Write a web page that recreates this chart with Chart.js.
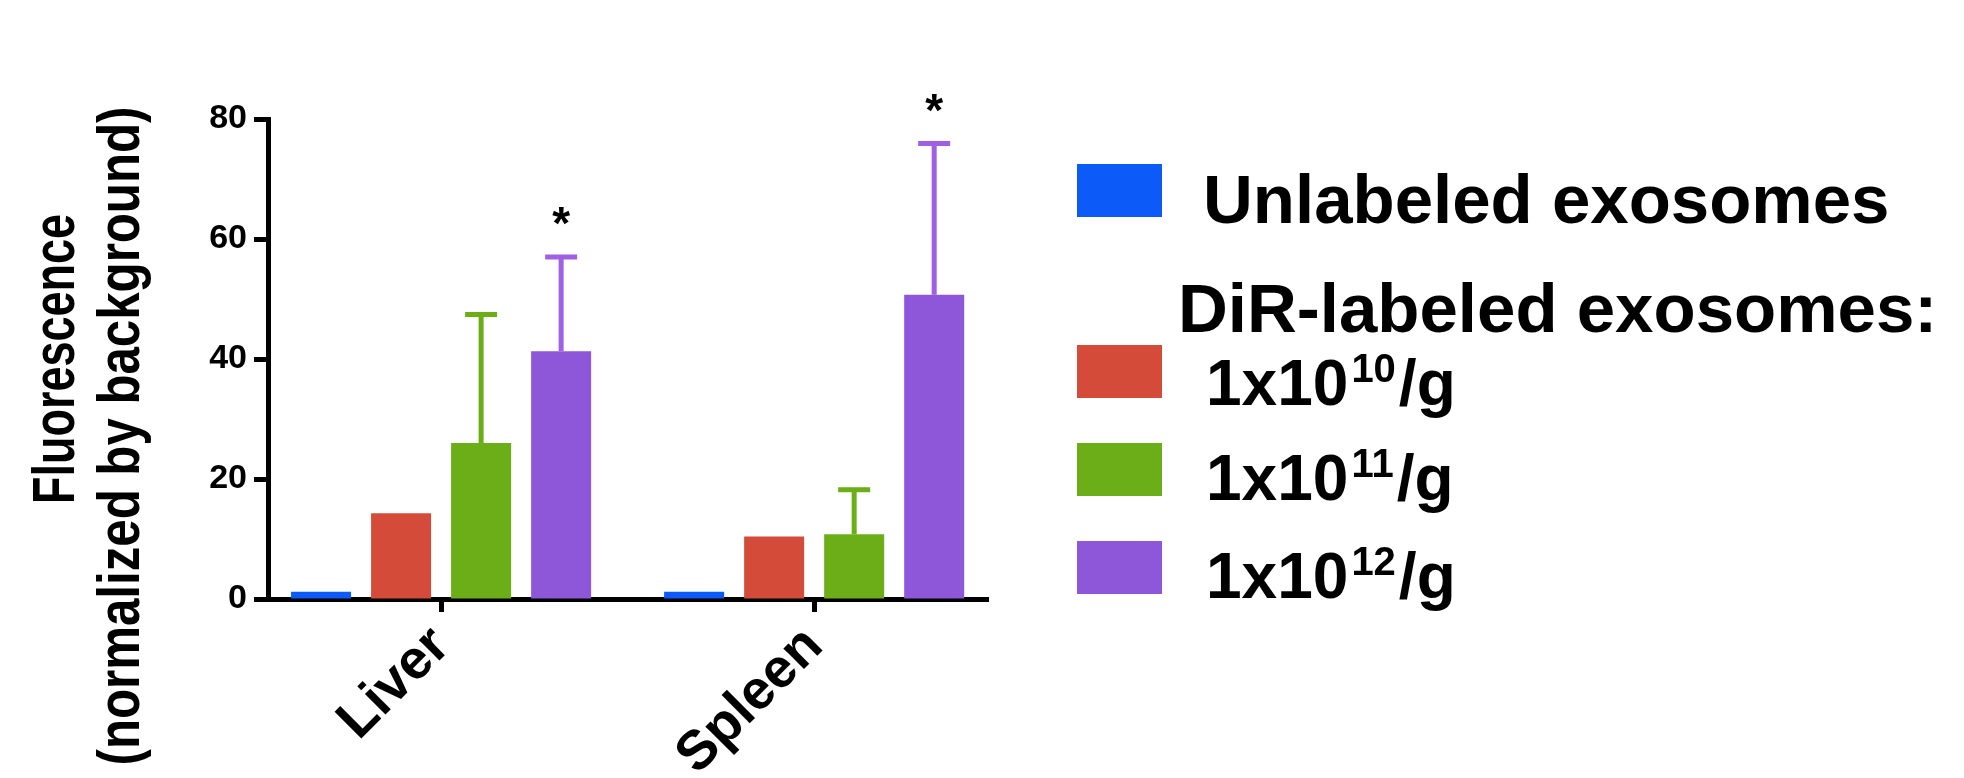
<!DOCTYPE html>
<html>
<head>
<meta charset="utf-8">
<script src="https://cdn.jsdelivr.net/npm/chart.js@4.4.1/dist/chart.umd.min.js"></script>
<style>
  html, body { margin: 0; padding: 0; background: #fff; }
  #wrap { width: 1964px; height: 778px; }
</style>
</head>
<body>
<div id="wrap"><canvas id="chartFluorescence"></canvas></div>
<script>
var organs = ['Liver', 'Spleen'];
var unlabeled = [1.2, 1.2];
var dose10 = [14.3, 10.4];
var dose11 = [26.0, 10.8];
var dose12 = [41.3, 50.7];
var err11 = [21.4, 7.4];
var err12 = [15.7, 25.2];
var stars12 = ['*', '*'];
var yTitle = ['Fluorescence', '(normalized by background)'];
var legendUnlabeled = 'Unlabeled exosomes';
var legendHeader = 'DiR-labeled exosomes:';
var doseBase = '1x10';
var doseExp = ['10', '11', '12'];
var doseUnit = '/g';

var FONT = "'Liberation Sans', Arial, Helvetica, sans-serif";

function points(values) {
  return values.map(function (v, i) { return { x: i, y: v }; });
}

(function () {
  document.addEventListener("DOMContentLoaded", init)
  function init() {

    /**
     * error bars (upper only) + significance stars
     */
    var errorBars = {
      id: 'errorBars',
      afterDatasetsDraw: function (chart) {
        var ctx = chart.ctx;
        var yScale = chart.scales.y;
        chart.data.datasets.forEach(function (ds, i) {
          if (!ds.errorUp) return;
          var meta = chart.getDatasetMeta(i);
          meta.data.forEach(function (bar, j) {
            var e = ds.errorUp[j];
            if (!e) return;
            var top = yScale.getPixelForValue(ds.data[j].y + e);
            ctx.save();
            ctx.strokeStyle = ds.errorColor;
            ctx.lineWidth = 5;
            ctx.beginPath();
            ctx.moveTo(bar.x, bar.y);
            ctx.lineTo(bar.x, top);
            ctx.moveTo(bar.x - 16, top);
            ctx.lineTo(bar.x + 16, top);
            ctx.stroke();
            if (ds.stars && ds.stars[j]) {
              ctx.fillStyle = '#000';
              ctx.font = 'bold 46px ' + FONT;
              ctx.textAlign = 'center';
              ctx.textBaseline = 'alphabetic';
              ctx.fillText(ds.stars[j], bar.x, top - 18);
            }
            ctx.restore();
          });
        });
      }
    };

    /**
     * y title (condensed, two lines) and legend
     */
    var decorations = {
      id: 'decorations',
      afterDraw: function (chart) {
        var ctx = chart.ctx;
        var ys = chart.scales.y;
        var cy = (ys.top + ys.bottom) / 2;

        ctx.save();
        ctx.fillStyle = '#000';
        ctx.textAlign = 'center';
        ctx.textBaseline = 'middle';
        ctx.font = 'bold 60px ' + FONT;
        var lines = [{ x: 57, y: cy, sx: 0.75 }, { x: 122, y: cy + 77, sx: 0.82 }];
        lines.forEach(function (l, k) {
          ctx.save();
          ctx.translate(l.x, l.y);
          ctx.rotate(-Math.PI / 2);
          ctx.scale(l.sx, 1);
          ctx.fillText(yTitle[k], 0, 0);
          ctx.restore();
        });
        ctx.restore();

        var ds = chart.data.datasets;
        var boxX = 1077, boxW = 85, boxH = 53;
        ctx.save();
        ctx.textAlign = 'left';
        ctx.textBaseline = 'alphabetic';

        ctx.fillStyle = ds[0].backgroundColor;
        ctx.fillRect(boxX, 164, boxW, boxH);
        ctx.fillStyle = '#000';
        ctx.font = 'bold 69px ' + FONT;
        ctx.fillText(legendUnlabeled, 1203, 223);
        ctx.fillText(legendHeader, 1178, 332);

        var boxY = [345, 443, 541];
        var baseY = [405, 500, 598];
        for (var k = 0; k < 3; k++) {
          ctx.fillStyle = ds[k + 1].backgroundColor;
          ctx.fillRect(boxX, boxY[k], boxW, boxH);
          ctx.fillStyle = '#000';
          var x = 1206;
          ctx.font = 'bold 64px ' + FONT;
          ctx.fillText(doseBase, x, baseY[k]);
          x += ctx.measureText(doseBase).width + 3;
          ctx.font = 'bold 40px ' + FONT;
          ctx.fillText(doseExp[k], x, baseY[k] - 23);
          x += ctx.measureText(doseExp[k]).width + 3;
          ctx.font = 'bold 64px ' + FONT;
          ctx.fillText(doseUnit, x, baseY[k]);
        }
        ctx.restore();
      }
    };

    var ctxFluo = document.getElementById('chartFluorescence').getContext('2d');
    var chartFluo = new Chart(ctxFluo, {
      type: 'bar',
      data: {
        datasets: [{
          label: legendUnlabeled,
          backgroundColor: 'rgb(12, 90, 247)',
          data: points(unlabeled)
        }, {
          label: doseBase + doseExp[0] + doseUnit,
          backgroundColor: 'rgb(213, 75, 58)',
          data: points(dose10)
        }, {
          label: doseBase + doseExp[1] + doseUnit,
          backgroundColor: 'rgb(108, 174, 24)',
          errorColor: 'rgb(108, 174, 24)',
          errorUp: err11,
          data: points(dose11)
        }, {
          label: doseBase + doseExp[2] + doseUnit,
          backgroundColor: 'rgb(142, 87, 218)',
          errorColor: 'rgb(160, 96, 226)',
          errorUp: err12,
          stars: stars12,
          data: points(dose12)
        }]
      },
      options: {
        responsive: true,
        maintainAspectRatio: false,
        animation: false,
        categoryPercentage: 0.858,
        barPercentage: 0.75,
        layout: { padding: { left: 0, top: 119, right: 976, bottom: 0 } },
        plugins: { legend: { display: false }, tooltip: { enabled: false } },
        scales: {
          x: {
            type: 'linear',
            min: -0.464,
            max: 1.466,
            offset: false,
            afterFit: function (s) { s.height = 179; },
            grid: { offset: false, drawOnChartArea: false, drawTicks: true, tickLength: 13, tickWidth: 5, tickColor: '#000' },
            border: { display: true, width: 5, color: '#000' },
            ticks: {
              stepSize: 1,
              includeBounds: false,
              autoSkip: false,
              minRotation: 45,
              maxRotation: 45,
              padding: 2,
              color: '#000',
              font: { family: FONT, size: 55, weight: 'bold' },
              callback: function (v) { return organs[v] !== undefined ? organs[v] : ''; }
            }
          },
          y: {
            min: 0,
            max: 80,
            afterFit: function (s) { s.width = 268; },
            grid: { drawOnChartArea: false, drawTicks: true, tickLength: 14, tickWidth: 5, tickColor: '#000' },
            border: { display: true, width: 5, color: '#000' },
            ticks: {
              stepSize: 20,
              padding: 7,
              color: '#000',
              font: { family: FONT, size: 34, weight: 'bold' }
            }
          }
        }
      },
      plugins: [errorBars, decorations]
    });
  }
})();
</script>
</body>
</html>
